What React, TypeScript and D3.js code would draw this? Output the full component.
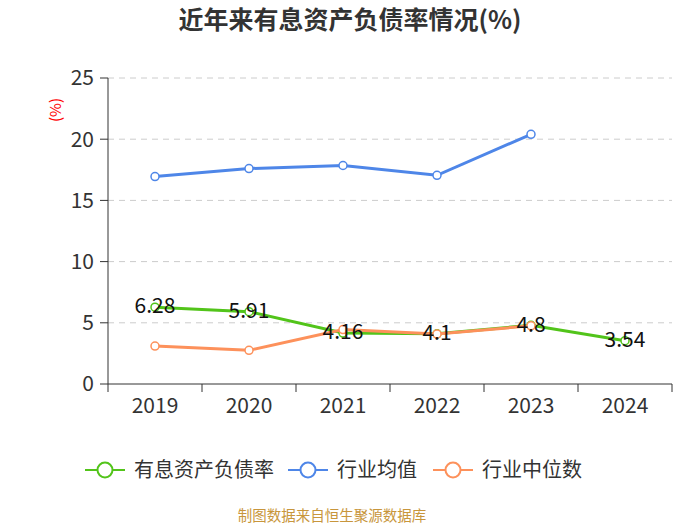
import React from "react";
import * as d3 from "d3";

const years = ["2019", "2020", "2021", "2022", "2023", "2024"];
const debtRatio = [6.28, 5.91, 4.16, 4.1, 4.8, 3.54];
const industryAvg = [16.95, 17.6, 17.85, 17.05, 20.4];
const industryMedian = [3.1, 2.75, 4.45, 4.08, 4.75];
const yTicks = [0, 5, 10, 15, 20, 25];

const W = 700, H = 525;
const left = 108, right = 672, top = 78, bottom = 384;
const font = "'Noto Sans CJK SC', 'Noto Sans', sans-serif";

export default function App() {
  const x = d3.scaleBand<string>().domain(years).range([left, right]);
  const y = d3.scaleLinear().domain([0, 25]).range([bottom, top]);
  const cx = (i: number) => (x(years[i]) as number) + x.bandwidth() / 2;
  const line = d3
    .line<number>()
    .x((_, i) => cx(i))
    .y((d) => y(d));

  const series = [
    { name: "有息资产负债率", color: "#52c41a", data: debtRatio },
    { name: "行业均值", color: "#4e86e8", data: industryAvg },
    { name: "行业中位数", color: "#fd915b", data: industryMedian },
  ];
  const legendX = [85, 288, 433];

  return (
    <svg width={W} height={H} style={{ position: "absolute", left: 0, top: 0, fontFamily: font }}>
      <rect width={W} height={H} fill="#fff" />
      <text x={350} y={29} textAnchor="middle" fontSize={25} fontWeight="bold" fill="#333">
        近年来有息资产负债率情况(%)
      </text>
      <text transform={`translate(56,110) rotate(-90)`} dy="0.35em" textAnchor="middle" fontSize={15} fill="red">
        (%)
      </text>
      {yTicks.map((t) => (
        <g key={t}>
          {t > 0 && (
            <line x1={left} x2={right} y1={y(t)} y2={y(t)} stroke="#ccc" strokeDasharray="6,5" />
          )}
          <line x1={left - 8} x2={left} y1={y(t)} y2={y(t)} stroke="#333" />
          <text x={left - 14} y={y(t)} dy="0.35em" textAnchor="end" fontSize={21} fill="#333">
            {t}
          </text>
        </g>
      ))}
      <line x1={left} x2={left} y1={top} y2={bottom} stroke="#333" />
      <line x1={left} x2={right} y1={bottom} y2={bottom} stroke="#333" />
      {[...years.map((yr) => x(yr) as number), right].map((p, i) => (
        <line key={i} x1={p} x2={p} y1={bottom} y2={bottom + 8} stroke="#333" />
      ))}
      {years.map((yr, i) => (
        <text key={yr} x={cx(i)} y={406} dy="0.35em" textAnchor="middle" fontSize={21} fill="#333">
          {yr}
        </text>
      ))}
      {[series[0], series[2], series[1]].map((s) => (
        <g key={s.name}>
          <path d={line(s.data) || ""} fill="none" stroke={s.color} strokeWidth={3} />
          {s.data.map((v, i) => (
            <circle key={i} cx={cx(i)} cy={y(v)} r={4} fill="#fff" stroke={s.color} strokeWidth={1.5} />
          ))}
        </g>
      ))}
      {debtRatio.map((v, i) => (
        <text key={i} x={cx(i)} y={y(v) - 1} dy="0.35em" textAnchor="middle" fontSize={21} fill="#111">
          {v}
        </text>
      ))}
      {series.map((s, i) => (
        <g key={s.name}>
          <line x1={legendX[i]} x2={legendX[i] + 40} y1={470} y2={470} stroke={s.color} strokeWidth={2} />
          <circle cx={legendX[i] + 20} cy={470} r={7.5} fill="#fff" stroke={s.color} strokeWidth={2} />
          <text x={legendX[i] + 49} y={470} dy="0.35em" fontSize={20} fill="#333">
            {s.name}
          </text>
        </g>
      ))}
      <text x={332} y={516} dy="0.35em" textAnchor="middle" fontSize={14.5} fill="#c8963c">
        制图数据来自恒生聚源数据库
      </text>
    </svg>
  );
}
